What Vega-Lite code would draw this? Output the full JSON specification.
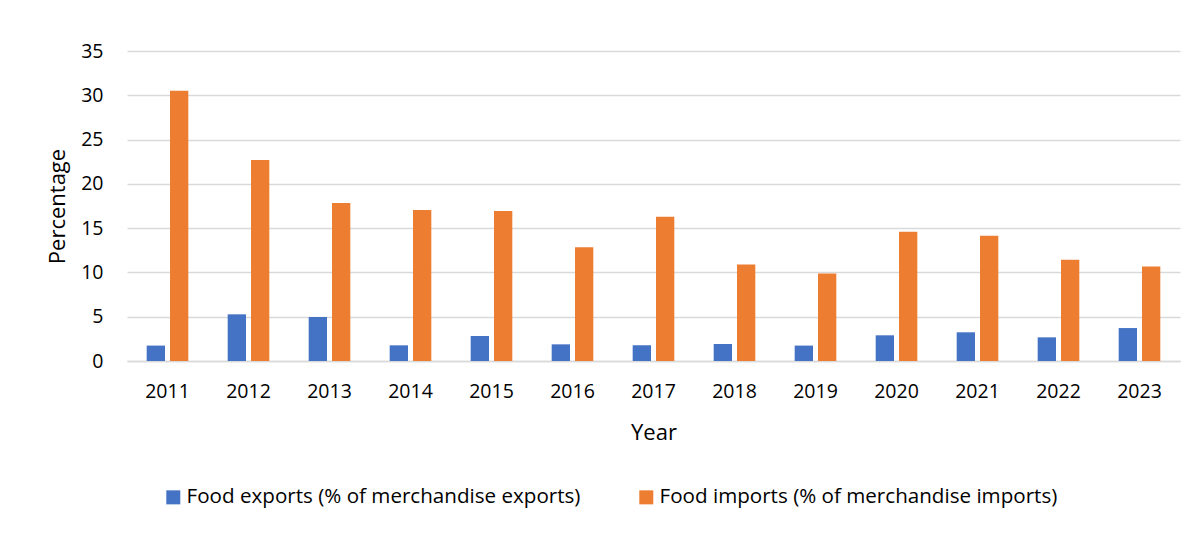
{
  "$schema": "https://vega.github.io/schema/vega-lite/v6.json",
  "width": 1053,
  "height": 310,
  "autosize": {"type": "none"},
  "padding": {"left": 127, "top": 51, "right": 15, "bottom": 190},
  "background": "white",
  "config": {
    "font": "Open Sans",
    "view": {"stroke": null},
    "axis": {"labelColor": "#000000", "titleColor": "#000000", "labelFont": "Open Sans", "titleFont": "Open Sans", "titleFontWeight": "normal"}
  },
  "data": {
    "values": [
      {"Year": "2011", "Series": "Food exports (% of merchandise exports)", "Value": 1.74},
      {"Year": "2012", "Series": "Food exports (% of merchandise exports)", "Value": 5.27},
      {"Year": "2013", "Series": "Food exports (% of merchandise exports)", "Value": 4.97},
      {"Year": "2014", "Series": "Food exports (% of merchandise exports)", "Value": 1.77},
      {"Year": "2015", "Series": "Food exports (% of merchandise exports)", "Value": 2.82},
      {"Year": "2016", "Series": "Food exports (% of merchandise exports)", "Value": 1.88},
      {"Year": "2017", "Series": "Food exports (% of merchandise exports)", "Value": 1.77},
      {"Year": "2018", "Series": "Food exports (% of merchandise exports)", "Value": 1.92},
      {"Year": "2019", "Series": "Food exports (% of merchandise exports)", "Value": 1.74},
      {"Year": "2020", "Series": "Food exports (% of merchandise exports)", "Value": 2.9},
      {"Year": "2021", "Series": "Food exports (% of merchandise exports)", "Value": 3.24},
      {"Year": "2022", "Series": "Food exports (% of merchandise exports)", "Value": 2.67},
      {"Year": "2023", "Series": "Food exports (% of merchandise exports)", "Value": 3.72},
      {"Year": "2011", "Series": "Food imports (% of merchandise imports)", "Value": 30.5},
      {"Year": "2012", "Series": "Food imports (% of merchandise imports)", "Value": 22.7},
      {"Year": "2013", "Series": "Food imports (% of merchandise imports)", "Value": 17.85},
      {"Year": "2014", "Series": "Food imports (% of merchandise imports)", "Value": 17.05},
      {"Year": "2015", "Series": "Food imports (% of merchandise imports)", "Value": 16.94},
      {"Year": "2016", "Series": "Food imports (% of merchandise imports)", "Value": 12.83},
      {"Year": "2017", "Series": "Food imports (% of merchandise imports)", "Value": 16.3},
      {"Year": "2018", "Series": "Food imports (% of merchandise imports)", "Value": 10.9},
      {"Year": "2019", "Series": "Food imports (% of merchandise imports)", "Value": 9.89},
      {"Year": "2020", "Series": "Food imports (% of merchandise imports)", "Value": 14.6},
      {"Year": "2021", "Series": "Food imports (% of merchandise imports)", "Value": 14.14},
      {"Year": "2022", "Series": "Food imports (% of merchandise imports)", "Value": 11.42},
      {"Year": "2023", "Series": "Food imports (% of merchandise imports)", "Value": 10.67}
    ]
  },
  "mark": {"type": "bar"},
  "encoding": {
    "x": {
      "field": "Year", "type": "nominal",
      "scale": {"paddingInner": 0.486, "paddingOuter": 0.243},
      "axis": {
        "title": "Year", "labelAngle": 0, "labelFontSize": 19.5, "labelPadding": 21,
        "ticks": false, "domain": true, "domainColor": "#D9D9D9", "domainWidth": 1.3,
        "titleFontSize": 22, "titlePadding": 22
      }
    },
    "xOffset": {"field": "Series", "type": "nominal", "scale": {"paddingInner": 0.215}},
    "y": {
      "field": "Value", "type": "quantitative",
      "scale": {"domain": [0, 35]},
      "axis": {
        "title": "Percentage", "values": [0, 5, 10, 15, 20, 25, 30, 35],
        "labelFontSize": 19.5, "labelPadding": 24, "ticks": false, "domain": false,
        "gridColor": "#D9D9D9", "gridWidth": 1.3,
        "titleFontSize": 22, "titlePadding": 11
      }
    },
    "color": {
      "field": "Series", "type": "nominal",
      "scale": {"range": ["#4472C4", "#ED7D31"]},
      "legend": {
        "title": null, "orient": "none", "direction": "horizontal",
        "legendX": 36, "legendY": 436,
        "symbolType": "square", "symbolSize": 196, "symbolStrokeWidth": 0,
        "labelFontSize": 20.6, "labelFont": "Open Sans", "labelColor": "#000000",
        "labelOffset": 3, "columnPadding": 55, "labelLimit": 600, "padding": 0
      }
    }
  }
}
